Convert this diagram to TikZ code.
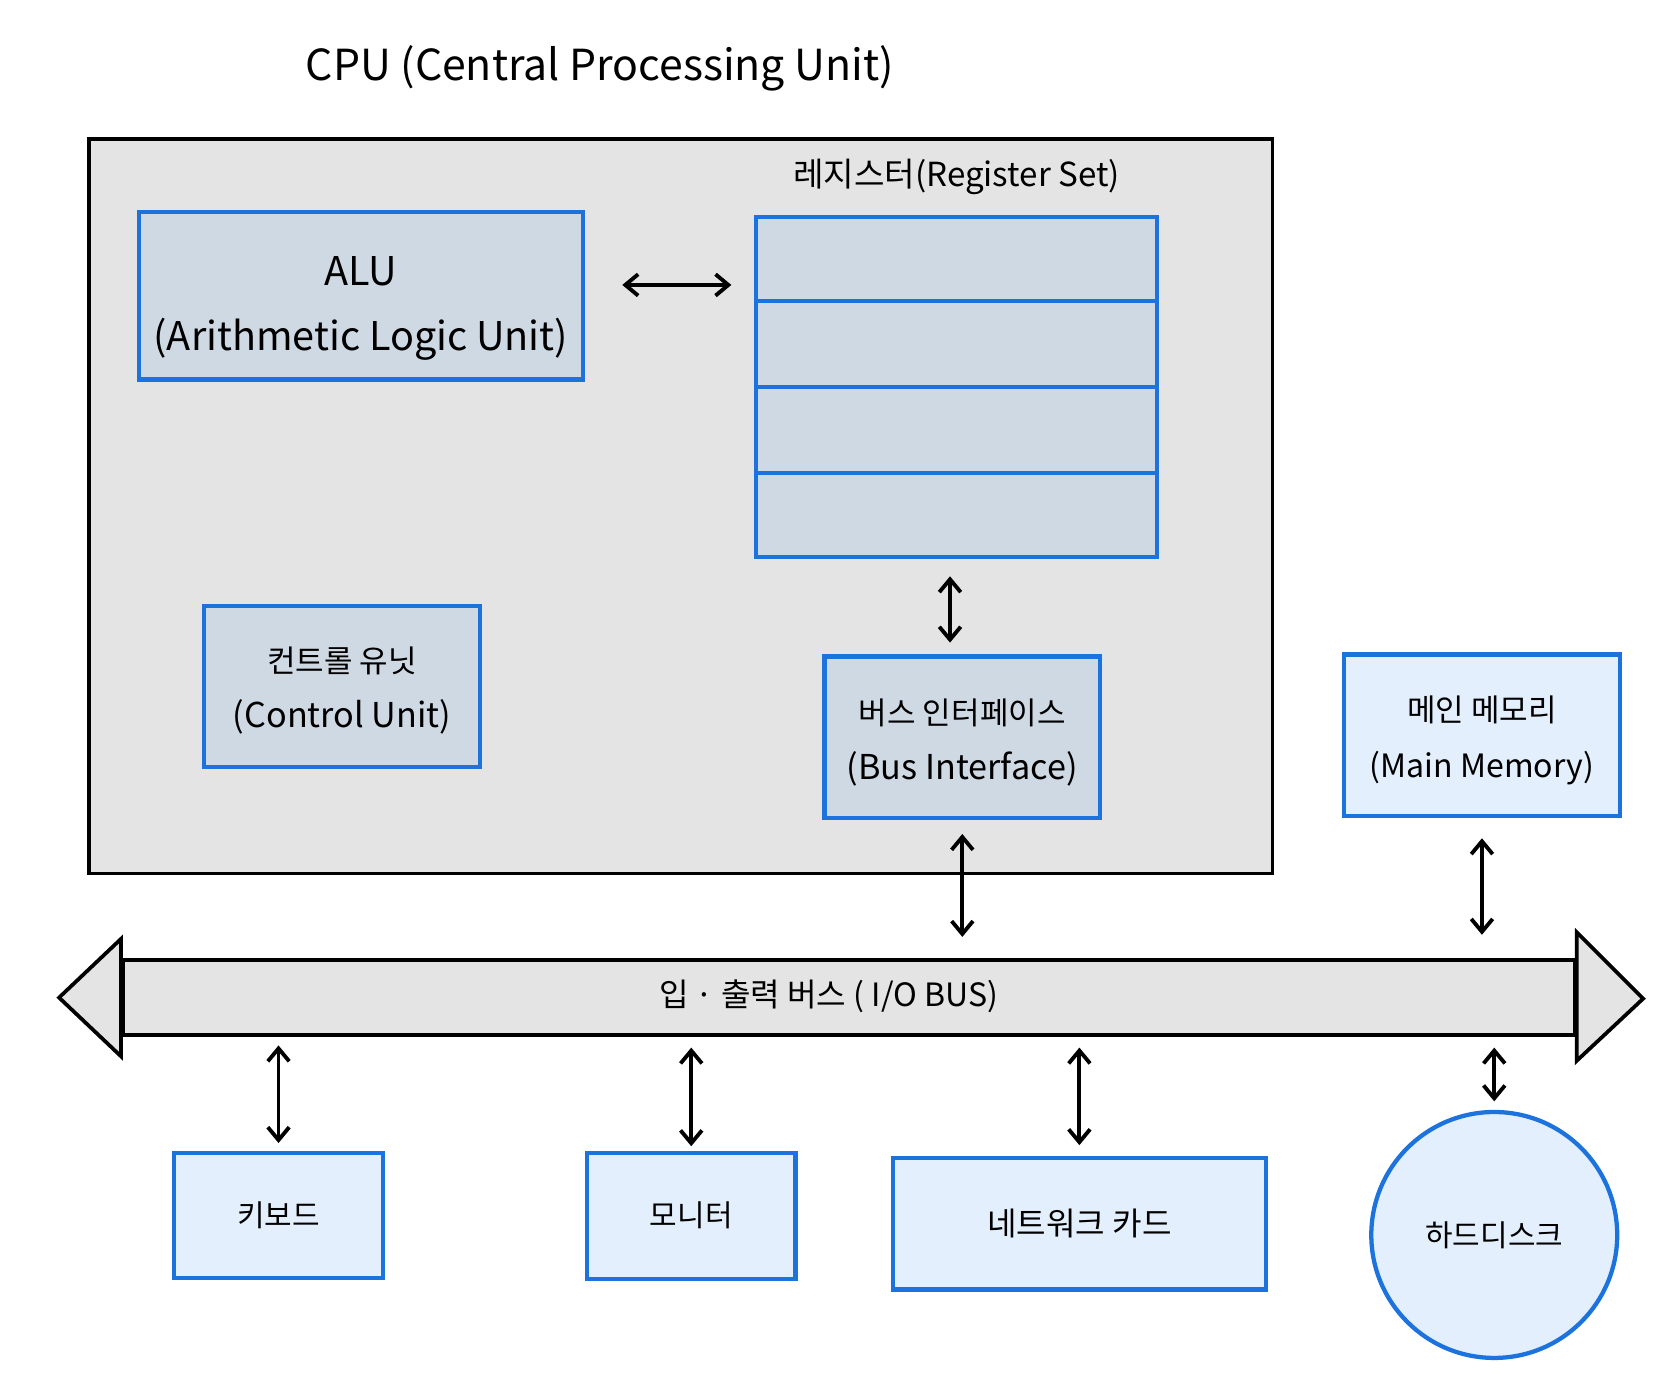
\documentclass[tikz,border=0pt]{standalone}
\usepackage{fontspec}
\setmainfont{Noto Sans CJK KR}
\usetikzlibrary{shapes,arrows.meta,positioning,calc}

\definecolor{cpugray}{RGB}{228,228,228}
\definecolor{boxblue}{RGB}{28,115,222}
\definecolor{unitfill}{RGB}{206,217,228}
\definecolor{devfill}{RGB}{227,239,252}

\newcommand{\kline}[1]{{\fontsize{14.5}{17}\selectfont #1}}

\tikzset{
  cpubox/.style={draw=black,line width=1.75pt,fill=cpugray},
  busline/.style={draw=black,line width=1.75pt,fill=cpugray,line join=miter},
  unit/.style={draw=boxblue,line width=2pt,fill=unitfill},
  device/.style={draw=boxblue,line width=2pt,fill=devfill,align=center,font=\fontsize{14}{17}\selectfont},
  boxtext/.style={align=center,font=\fontsize{16}{19}\selectfont},
  lbl/.style={font=\fontsize{15}{18}\selectfont},
  io/.style={<->,line width=1.8pt,line cap=round,line join=round,>={Straight Barb[length=6pt,width=10pt]}},
}

\begin{document}
\begin{tikzpicture}[x=0.5pt,y=-0.5pt]
\useasboundingbox (0,0) rectangle (1560,1296);
\node[font=\fontsize{20}{24}\selectfont] (title) at (561,64) {CPU (Central Processing Unit)};
\node[cpubox,minimum width=553.5pt,minimum height=343.5pt] (cpu) at (636.5,473.5) {};

% units inside the CPU
\node[unit,minimum width=207.5pt,minimum height=78.5pt] (alu) at (337.5,276.5) {};
\node[boxtext,font=\fontsize{18.5}{22}\selectfont] (alutext) at ([yshift=-6pt]alu.center) {ALU\\[8pt](Arithmetic Logic Unit)};
\node[unit,minimum width=187.5pt,minimum height=159pt] (reg) at (894.5,362) {};
\foreach \k in {1,2,3}
  \draw[boxblue,line width=2pt] ($(reg.north west)!\k/4!(reg.south west)$) -- ($(reg.north east)!\k/4!(reg.south east)$);
\node[lbl,font=\fontsize{15.5}{18}\selectfont,above=6pt of reg] (reglbl) {레지스터(Register Set)};
\node[unit,minimum width=129pt,minimum height=75pt] (cu) at (320,642) {};
\node[boxtext] (cutext) at ([yshift=-2pt]cu.center) {\kline{컨트롤 유닛}\\[7pt](Control Unit)};
\node[unit,minimum width=129pt,minimum height=75.5pt] (bi) at (900,689.5) {};
\node[boxtext] (bitext) at ([yshift=-2.5pt]bi.center) {\kline{버스 인터페이스}\\[7pt](Bus Interface)};
\node[device,minimum width=129pt,minimum height=75.5pt] (mem) at (1386,687.5) {};
\node[boxtext,font=\fontsize{15}{18}\selectfont] (memtext) at ([yshift=-2.5pt]mem.center) {\kline{메인 메모리}\\[8pt](Main Memory)};

% I/O bus
\node[busline,minimum width=679pt,minimum height=35pt] (bus) at (794,933) {};
\draw[busline] (bus.west) ++(0,-55) -- ++(0,110) -- ++(-58,-55) -- cycle;
\draw[busline] (bus.east) ++(0,-61) -- ++(0,120) -- ++(62,-58) -- cycle;
\node[lbl] (buslbl) at (775,932) {입 · 출력 버스 ( I/O BUS)};

% devices
\node[device,minimum width=97.5pt,minimum height=58.5pt] (kbd) at (260.5,1136.5) {키보드};
\node[device,minimum width=97.5pt,minimum height=59pt] (mon) at (646.5,1137) {모니터};
\node[device,minimum width=174.5pt,minimum height=61.5pt,font=\fontsize{15}{18}\selectfont] (nic) at (1009.5,1144.5) {네트워크 카드};
\node[device,circle,minimum size=115pt,inner sep=0pt] (hdd) at (1397.5,1155) {하드디스크};

\draw ([yshift=5pt]alu.east) edge[io,shorten <=17.5pt,shorten >=10.5pt] ([yshift=5pt]alu.east -| reg.west)
  ([xshift=-3pt]reg.south) edge[io,shorten <=8pt,shorten >=5.5pt] ([xshift=-3pt]reg.south |- bi.north)
  (bi.south) edge[io,shorten <=6.5pt,shorten >=10pt] (bi.south |- bus.north)
  (mem.south) edge[io,shorten <=9.5pt,shorten >=11pt] (mem.south |- bus.north)
  (bus.south -| kbd.north) edge[io,shorten <=4pt,shorten >=3.5pt] (kbd.north)
  (bus.south -| mon.north) edge[io,shorten <=5pt,shorten >=2pt] (mon.north)
  (bus.south -| nic.north) edge[io,shorten <=5pt,shorten >=5pt] (nic.north)
  (bus.south -| hdd.north) edge[io,shorten <=5pt,shorten >=4pt] (hdd.north);
\end{tikzpicture}
\end{document}
